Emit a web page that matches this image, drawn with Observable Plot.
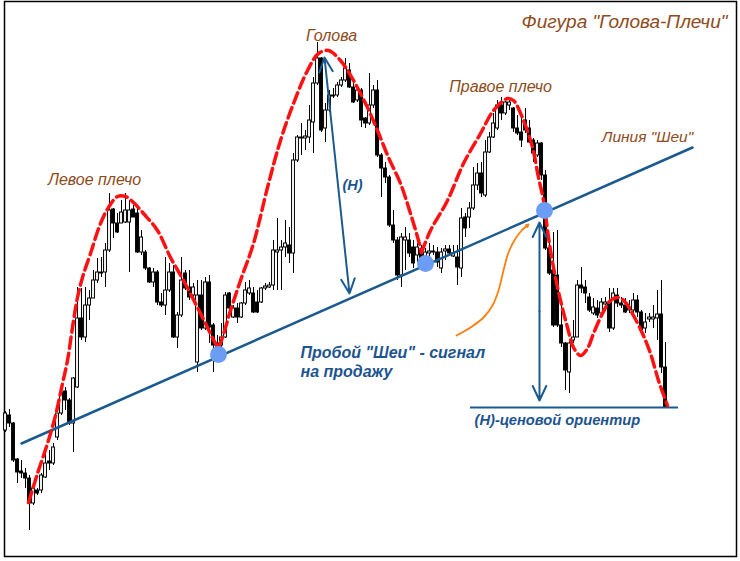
<!DOCTYPE html>
<html><head><meta charset="utf-8">
<script src="https://cdn.jsdelivr.net/npm/d3@7"></script>
<script src="https://cdn.jsdelivr.net/npm/@observablehq/plot@0.6"></script>
<style>body{margin:0;background:#fff}#chart svg{display:block;background:#fff}</style>
</head><body><div id="chart"></div>
<script>
// OHLC prices (arbitrary price units), one per bar
const openP = [170,185,177,141,129,127,122,97,110,110,
123,139,137,163,187,209,200,177,213,282,
263,295,302,320,328,328,350,391,377,377,
378,378,391,387,348,348,332,318,328,298,
295,310,328,263,285,327,313,305,238,305,
272,318,275,257,255,263,307,283,292,283,
297,307,307,298,298,312,313,315,348,350,
353,355,347,440,463,462,463,478,517,542,
472,490,505,505,515,520,530,513,500,510,
482,477,495,510,445,432,423,375,360,325,
360,360,353,345,350,338,347,348,348,332,
349,351,344,343,332,383,383,392,415,427,
405,448,463,472,495,487,495,492,472,468,
480,472,460,445,457,425,352,330,325,275,
257,228,260,263,315,313,303,287,292,287,
296,297,272,305,297,295,290,290,300,288,
272,281,281,282,286,233];
const highP = [189,191,178,142,140,132,125,113,112,127,
152,150,157,187,213,213,202,223,313,312,
313,310,330,342,343,357,407,392,387,400,
407,400,395,392,370,350,333,332,330,307,
343,337,335,288,343,330,330,317,320,320,
323,325,277,265,277,308,308,295,297,298,
318,320,313,310,313,317,318,360,382,360,
380,373,447,465,477,470,495,523,558,543,
497,510,512,518,523,542,537,518,513,512,
483,527,515,520,447,438,425,390,363,367,
373,367,360,357,355,352,357,355,353,352,
355,355,355,355,392,387,398,433,437,438,
460,468,487,500,503,502,500,493,485,482,
492,480,462,460,458,430,357,368,370,297,
258,260,280,320,333,320,307,302,300,302,
303,312,312,312,303,302,300,307,305,290,
287,287,295,310,320,258];
const lowP = [168,173,138,117,122,112,70,95,105,107,
122,130,135,160,185,190,175,148,212,260,
258,280,302,317,323,313,348,362,367,377,
377,328,383,347,345,330,317,313,295,293,
285,308,262,252,283,310,300,302,228,270,
270,257,228,240,253,262,290,282,277,282,
295,305,287,287,297,310,312,310,310,310,
343,337,327,438,445,450,457,447,515,468,
458,488,502,503,513,518,512,497,498,473,
472,475,492,443,403,417,373,357,320,313,
330,343,332,338,338,332,340,345,333,327,
340,345,343,315,323,363,372,390,410,403,
403,447,462,470,480,485,490,468,465,453,
467,457,438,443,420,350,325,273,273,253,
210,207,257,263,307,297,288,285,282,285,
292,268,270,293,292,287,287,282,283,268,
267,278,272,260,227,193];
const closeP = [187,177,140,128,127,122,97,112,107,125,
137,137,153,187,208,200,177,222,282,263,
295,302,320,328,327,350,390,377,368,388,
390,390,383,348,363,332,318,328,298,295,
310,328,263,285,320,312,303,313,305,272,
318,273,255,253,263,305,292,292,283,297,
310,312,288,288,312,314,315,350,350,353,
357,347,440,463,462,464,480,517,542,470,
490,505,504,515,520,532,513,498,510,480,
477,495,510,445,432,423,375,360,325,363,
363,347,337,353,342,348,349,349,338,348,
351,347,347,333,382,372,392,415,427,407,
448,463,477,495,487,498,498,472,467,460,
470,458,447,457,425,352,327,275,275,257,
230,257,263,315,312,307,290,293,285,298,
298,272,307,297,295,288,293,300,288,270,
278,283,283,286,233,193];

// Head & shoulders outline (bar index, price), three smooth segments
const patternSeg0 = [[5.75,98],[8,127],[10.5,157],[12.5,185],[14.25,217],[15.5,240],[16.75,273],[18,303],[19.25,323],[21.25,347],[23.75,377],[25.75,393],[28,404],[30,404],[32,398],[34.5,387],[38,370],[41.25,343],[44.5,320],[48,293],[50.5,273],[52.5,257],[53.25,253]];
const patternSeg1 = [[53.25,253],[54.25,263],[56.25,290],[58.75,320],[62,357],[65.5,413],[68.75,460],[72,497],[75.5,530],[78.25,547],[80.75,550],[83.75,540],[87,520],[90.5,493],[93,470],[95.75,443],[98.75,417],[101.25,387],[103.25,360],[104,348]];
const patternSeg2 = [[104,348],[106.25,370],[110.5,400],[114.5,437],[118.75,467],[122,490],[125.5,502],[127,500],[129.5,480],[131.75,453],[133.25,423],[134.5,400],[135.75,363],[137,333],[138.75,300],[140.5,273],[142,253],[143.75,245],[145.5,252],[147,267],[149.25,287],[151.25,300],[153.25,303],[155,298],[157,285],[159.25,267],[161.25,247],[163.25,220],[165.5,195]];

const neckline = [[4,157],[171.75,453]];
const touchPoints = [[53.25,246],[105,337],[134.75,390]];
const targetLevel = 193, targetFrom = 116.25, targetTo = 168.25;
const heightArrow = {mid:[82.875,425], top:[79.75,543], bottom:[86,307]};
const breakArrow = {x:133.5, mid:289, top:378, bottom:200};
const signalCurve = [[112.75,265],[116.25,273],[119.5,283],[121.75,295],[123.25,310],[124.5,330],[125.75,348],[127.5,362],[129.25,371]];
const signalHead = [130.75,376];

const brownLabels = [
  {t:"Фигура \"Голова-Плечи\"", x:180.5, y:579, anchor:"end", size:19},
  {t:"Голова", x:81.5, y:565, anchor:"middle", size:16},
  {t:"Левое плечо", x:22.25, y:421, anchor:"middle", size:16},
  {t:"Правое плечо", x:123.75, y:514, anchor:"middle", size:16},
  {t:"Линия \"Шеи\"", x:160.5, y:463, anchor:"middle", size:15.5}
];
const blueLabels = [
  {t:"(H)", x:86.75, y:415, anchor:"middle", size:14.5},
  {t:"Пробой \"Шеи\" - сигнал", x:73.75, y:248, anchor:"start", size:16},
  {t:"на продажу", x:73.75, y:229, anchor:"start", size:16},
  {t:"(H)-ценовой ориентир", x:117.25, y:180, anchor:"start", size:14.7}
];

const candles = openP.map((o, i) => ({i, open:o, high:highP[i], low:lowP[i], close:closeP[i]}));
const up = candles.filter(d => d.close >= d.open);
const down = candles.filter(d => d.close < d.open);
const seg = (pts, k) => pts.map(([x, y]) => ({x, y, k}));
const pattern = [...seg(patternSeg0,0), ...seg(patternSeg1,1), ...seg(patternSeg2,2)];

const BLUE = "#1b5a8f", BROWN = "#8e4b20", TBLUE = "#1d5490";
const font = "Liberation Sans, Arial, Helvetica, sans-serif";
const hw = 0.36;

const textMarks = [];
for (const [labels, fill, weight] of [[brownLabels, BROWN, "normal"], [blueLabels, TBLUE, "bold"]]) {
  for (const anchor of ["start", "middle", "end"]) {
    const sub = labels.filter(d => d.anchor === anchor);
    if (sub.length) textMarks.push(Plot.text(sub, {x: "x", y: "y", text: "t", textAnchor: anchor, fontSize: d => d.size, fill, fontStyle: "italic", fontWeight: weight, fontFamily: font}));
  }
}

const chart = Plot.plot({
  width: 740, height: 561,
  marginLeft: 4, marginRight: 4, marginTop: 1, marginBottom: 5,
  x: {domain: [-0.25, 182.75], axis: null},
  y: {domain: [44, 599], axis: null},
  marks: [
    Plot.frame({stroke: "black", strokeWidth: 1.5}),
    Plot.ruleX(candles, {x: "i", y1: "low", y2: "high", stroke: "black", strokeWidth: 1}),
    Plot.rect(up, {x1: d => d.i - hw, x2: d => d.i + hw, y1: "open", y2: "close", fill: "white", stroke: "black", strokeWidth: 1}),
    Plot.rect(down, {x1: d => d.i - hw, x2: d => d.i + hw, y1: "open", y2: "close", fill: "black", stroke: "black", strokeWidth: 1}),
    Plot.line(neckline, {x: d => d[0], y: d => d[1], stroke: BLUE, strokeWidth: 2.5}),
    Plot.ruleY([targetLevel], {x1: targetFrom, x2: targetTo, stroke: BLUE, strokeWidth: 2}),
    Plot.line(pattern, {x: "x", y: "y", z: "k", curve: "catmull-rom", stroke: "#ff1111", strokeWidth: 3.5, strokeDasharray: "11,5"}),
    Plot.dot(touchPoints, {x: d => d[0], y: d => d[1], r: 8.5, fill: "#6c9df5", stroke: "none"}),
    Plot.arrow([heightArrow], {x1: d => d.mid[0], y1: d => d.mid[1], x2: d => d.top[0], y2: d => d.top[1], stroke: BLUE, strokeWidth: 2, headLength: 12, headAngle: 50}),
    Plot.arrow([heightArrow], {x1: d => d.mid[0], y1: d => d.mid[1], x2: d => d.bottom[0], y2: d => d.bottom[1], stroke: BLUE, strokeWidth: 2, headLength: 12, headAngle: 50}),
    Plot.arrow([breakArrow], {x1: d => d.x, y1: d => d.mid, x2: d => d.x, y2: d => d.top, stroke: BLUE, strokeWidth: 2, headLength: 12, headAngle: 50}),
    Plot.arrow([breakArrow], {x1: d => d.x, y1: d => d.mid, x2: d => d.x, y2: d => d.bottom, stroke: BLUE, strokeWidth: 2, headLength: 12, headAngle: 50}),
    Plot.line(signalCurve, {x: d => d[0], y: d => d[1], curve: "catmull-rom", stroke: "#ff7f0e", strokeWidth: 1.8}),
    Plot.arrow([signalHead], {x1: signalCurve[signalCurve.length-1][0], y1: signalCurve[signalCurve.length-1][1], x2: d => d[0], y2: d => d[1], stroke: "#ff7f0e", strokeWidth: 1.8, headLength: 10, headAngle: 55}),
    ...textMarks
  ]
});
document.getElementById("chart").append(chart);
</script></body></html>
